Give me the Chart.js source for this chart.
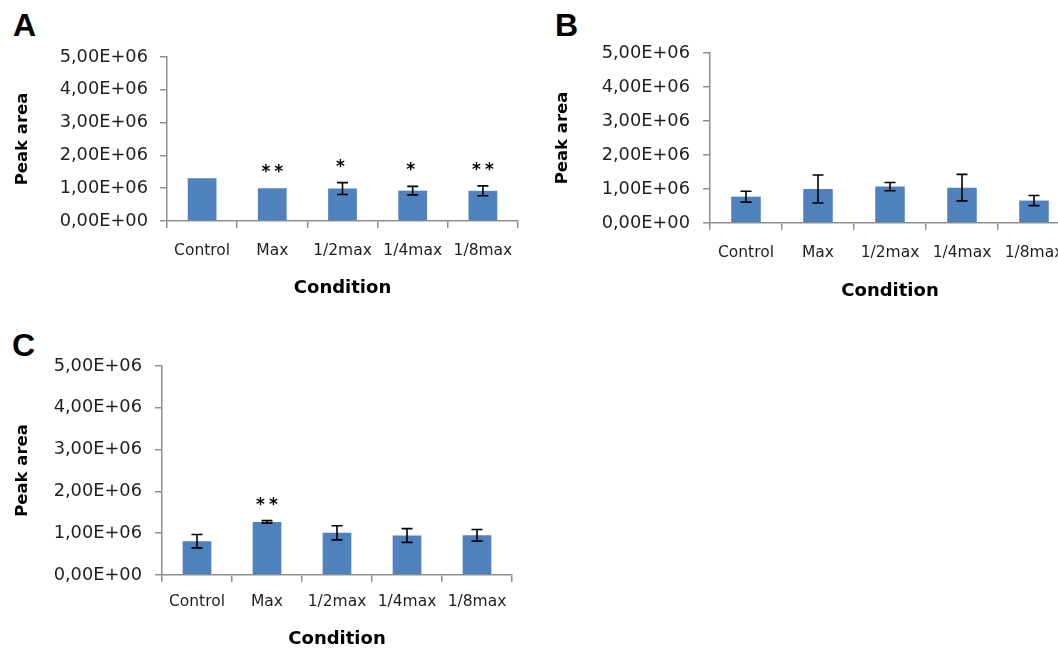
<!DOCTYPE html>
<html>
<head>
<meta charset="utf-8">
<script src="https://cdn.jsdelivr.net/npm/chart.js@4"></script>
<style>
  html, body { margin: 0; padding: 0; background: #fff; overflow: hidden; }
  #wrap { position: relative; width: 1058px; height: 650px; overflow: hidden; background: #fff; }
  canvas { position: absolute; }
  .panel { position: absolute; font-family: "Liberation Sans", Arial, sans-serif; font-weight: bold; font-size: 32px; line-height: 1; color: #000; }
</style>
</head>
<body>
<div id="wrap">
  <div class="panel" style="left:13px; top:9px;">A</div>
  <div class="panel" style="left:555px; top:9px;">B</div>
  <div class="panel" style="left:12px; top:329px;">C</div>
  <canvas id="cA" width="530" height="310" style="left:0px; top:0px;"></canvas>
  <canvas id="cB" width="540" height="310" style="left:540px; top:0px;"></canvas>
  <canvas id="cC" width="540" height="330" style="left:0px; top:320px;"></canvas>
</div>
<script>
// ---- data ----
const categories = ['Control', 'Max', '1/2max', '1/4max', '1/8max'];
const yTickLabels = ['0,00E+00', '1,00E+06', '2,00E+06', '3,00E+06', '4,00E+06', '5,00E+06'];
const yAxisTitle = 'Peak area';
const xAxisTitle = 'Condition';

const valuesA = [1.30e6, 1.00e6, 0.99e6, 0.925e6, 0.92e6];
const errorsA = [0, 0, 0.18e6, 0.13e6, 0.15e6];
const signifA = ['', '**', '*', '*', '**'];

const valuesB = [0.775e6, 1.00e6, 1.07e6, 1.04e6, 0.66e6];
const errorsB = [0.16e6, 0.41e6, 0.12e6, 0.39e6, 0.15e6];
const signifB = ['', '', '', '', ''];

const valuesC = [0.81e6, 1.27e6, 1.01e6, 0.945e6, 0.95e6];
const errorsC = [0.16e6, 0.03e6, 0.17e6, 0.165e6, 0.14e6];
const signifC = ['', '**', '', '', ''];

// ---- plugins ----
const errorBarPlugin = {
  id: 'errorBars',
  afterDatasetsDraw(chart, args, opts) {
    const ctx = chart.ctx;
    const meta = chart.getDatasetMeta(0);
    const ys = chart.scales.y;
    const errs = opts.errors || [];
    const sig = opts.signif || [];
    const vals = chart.data.datasets[0].data;
    ctx.save();
    meta.data.forEach((bar, i) => {
      const e = errs[i] || 0;
      const v = vals[i];
      const x = bar.x;
      let topPix = ys.getPixelForValue(v);
      if (e > 0) {
        const yT = ys.getPixelForValue(v + e);
        const yB = ys.getPixelForValue(v - e);
        topPix = yT;
        ctx.strokeStyle = '#000';
        ctx.lineWidth = 1.6;
        ctx.beginPath();
        ctx.moveTo(x, yT); ctx.lineTo(x, yB);
        ctx.moveTo(x - 5.5, yT); ctx.lineTo(x + 5.5, yT);
        ctx.moveTo(x - 5.5, yB); ctx.lineTo(x + 5.5, yB);
        ctx.stroke();
      }
      if (sig[i]) {
        ctx.fillStyle = '#000';
        ctx.font = 'bold 17px "DejaVu Sans"';
        ctx.textAlign = 'center';
        ctx.textBaseline = 'alphabetic';
        try { ctx.letterSpacing = '4px'; } catch (err) {}
        const cy = topPix - 21;
        ctx.fillText(sig[i], x + (sig[i].length > 1 ? 2 : 0), cy + 10);
        try { ctx.letterSpacing = '0px'; } catch (err) {}
      }
    });
    ctx.restore();
  }
};

const axisColor = '#8f8f8f';
const textColor = '#1e1e1e';

function makeChart(id, values, errors, signif, cfg) {
  return new Chart(document.getElementById(id), {
    type: 'bar',
    data: {
      labels: categories,
      datasets: [{
        data: values,
        backgroundColor: '#4f81bd',
        borderWidth: 0,
        categoryPercentage: 1.0,
        barPercentage: 0.41
      }]
    },
    options: {
      responsive: false,
      animation: false,
      events: [],
      layout: { padding: cfg.padding },
      plugins: {
        legend: { display: false },
        tooltip: { enabled: false },
        errorBars: { errors: errors, signif: signif }
      },
      scales: {
        x: {
          afterFit(scale) { scale.height = cfg.xHeight; },
          grid: { display: true, drawOnChartArea: false, drawTicks: true, tickLength: 7, color: axisColor, lineWidth: 1.5, offset: true },
          border: { display: true, color: axisColor, width: 1.5 },
          ticks: { color: textColor, font: { family: 'DejaVu Sans', size: 15.5 }, padding: cfg.xTickPad, maxRotation: 0, autoSkip: false },
          title: { display: true, text: xAxisTitle, color: '#000', font: { family: 'DejaVu Sans', size: 18, weight: 'bold' }, padding: { top: 0, bottom: cfg.xTitlePad } }
        },
        y: {
          min: 0, max: 5e6,
          afterFit(scale) { scale.width = cfg.yWidth; },
          afterBuildTicks(scale) {
            scale.ticks = yTickLabels.map((t, i) => ({ value: i * 1e6 }));
          },
          grid: { display: true, drawOnChartArea: false, drawTicks: true, tickLength: 7, color: axisColor, lineWidth: 1.5 },
          border: { display: true, color: axisColor, width: 1.5 },
          ticks: {
            color: textColor,
            font: { family: 'DejaVu Sans', size: 17.8 },
            padding: cfg.yTickPad,
            callback: (v, i) => yTickLabels[i]
          },
          title: { display: true, text: yAxisTitle, color: '#000', font: { family: 'DejaVu Sans', size: 16.5, weight: 'bold' }, padding: { top: 13, bottom: 0 } }
        }
      }
    },
    plugins: [errorBarPlugin]
  });
}

makeChart('cA', valuesA, errorsA, signifA, {
  padding: { top: 57, right: 12, left: 0, bottom: 0 },
  yWidth: 167, xHeight: 89, xTickPad: 14, yTickPad: 12, xTitlePad: 11
});
makeChart('cB', valuesB, errorsB, signifB, {
  padding: { top: 53, right: 10, left: 0, bottom: 0 },
  yWidth: 170, xHeight: 87, xTickPad: 14, yTickPad: 13, xTitlePad: 8
});
makeChart('cC', valuesC, errorsC, signifC, {
  padding: { top: 46, right: 28, left: 0, bottom: 0 },
  yWidth: 162, xHeight: 75, xTickPad: 11, yTickPad: 13, xTitlePad: 0
});
</script>
</body>
</html>
